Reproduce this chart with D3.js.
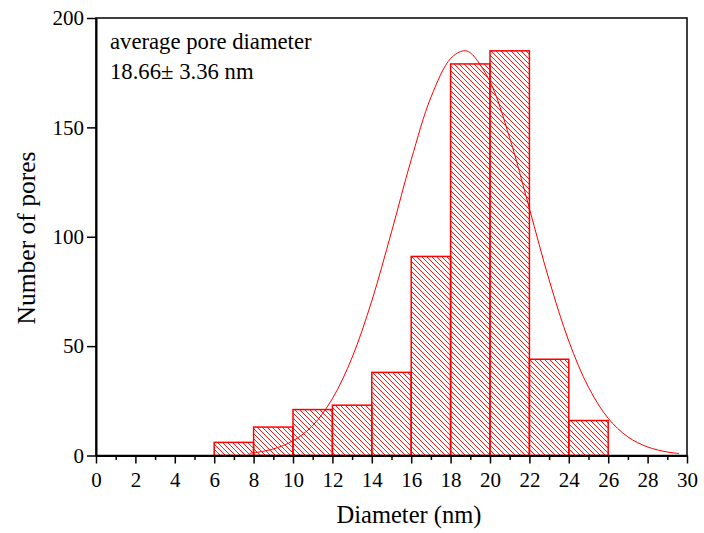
<!DOCTYPE html>
<html>
<head>
<meta charset="utf-8">
<script src="https://cdn.jsdelivr.net/npm/d3@7"></script>
<style>
  body { margin: 0; background: #fff; }
  svg { font-family: "Liberation Serif", "Times New Roman", serif; }
</style>
</head>
<body>
<svg width="704" height="533"></svg>
<script>
// histogram bins (lower edge, nm) and counts
const binStarts = [6, 8, 10, 12, 14, 16, 18, 20, 22, 24];
const binWidth = 2;
const counts = [6, 13, 21, 23, 38, 91, 179, 185, 44, 16];

// fitted curve, points
const fitX = [7.8, 8, 9, 10, 11, 12, 13, 14, 15, 16, 17, 18, 18.66, 19, 20, 21, 22, 23, 24, 25, 26, 27, 28, 29, 29.6];
const fitY = [1.0, 1.2, 3.0, 6.7, 13.7, 26.0, 44.8, 70.7, 102.2, 135.2, 163.7, 181.5, 185, 184.1, 170.9, 145.2, 112.9, 80.3, 52.3, 31.2, 17.0, 8.5, 3.9, 1.6, 0.9];

const xTicks = d3.range(0, 31, 2);
const xMinor = d3.range(1, 30, 2);
const yTicks = [0, 50, 100, 150, 200];

const noteLines = ["average pore diameter", "18.66\u00b1 3.36 nm"];

var svg = d3.select("svg");
var plotL = 96, plotR = 687, plotT = 18, plotB = 455.5;

var x = d3.scaleLinear().domain([0, 30]).range([plotL, plotR]);
var y = d3.scaleLinear().domain([0, 200]).range([plotB, plotT]);

// hatch pattern
var pat = svg.append("defs").append("pattern")
    .attr("id", "hatch")
    .attr("patternUnits", "userSpaceOnUse")
    .attr("width", 5)
    .attr("height", 5);
pat.append("path")
    .attr("d", "M-1,-1 L6,6 M-1,4 L1,6 M4,-1 L6,1")
    .attr("stroke", "#ff0000")
    .attr("stroke-width", 0.9);

// bars
svg.selectAll("rect.bar")
    .data(counts)
    .enter().append("rect")
    .attr("class", "bar")
    .attr("x", (d, i) => x(binStarts[i]))
    .attr("width", (d, i) => x(binStarts[i] + binWidth) - x(binStarts[i]))
    .attr("y", d => y(d))
    .attr("height", d => y(0) - y(d))
    .attr("fill", "url(#hatch)")
    .attr("stroke", "#ff0000")
    .attr("stroke-width", 1.5);

// fit curve
var line = d3.line()
    .x((d, i) => x(fitX[i]))
    .y(d => y(d))
    .curve(d3.curveCatmullRom);

svg.append("path")
    .datum(fitY)
    .attr("d", line)
    .attr("fill", "none")
    .attr("stroke", "#ff0000")
    .attr("stroke-width", 1);

// frame
svg.append("rect")
    .attr("x", plotL).attr("y", plotT)
    .attr("width", plotR - plotL).attr("height", plotB - plotT)
    .attr("fill", "none")
    .attr("stroke", "#000")
    .attr("stroke-width", 1.5);

// x axis
var xAxis = svg.append("g")
    .attr("transform", "translate(0," + plotB + ")")
    .call(d3.axisBottom(x).tickValues(xTicks).tickSize(8).tickSizeOuter(0).tickFormat(d3.format("d")));
xAxis.select(".domain").attr("stroke-width", 2);
xAxis.selectAll(".tick line").attr("stroke-width", 1.5);
xAxis.selectAll("text")
    .attr("font-size", 21)
    .attr("font-family", "Liberation Serif")
    .attr("fill", "#000")
    .attr("dy", "1.1em")
    .attr("y", 8);

svg.append("g")
    .attr("transform", "translate(0," + plotB + ")")
    .call(d3.axisBottom(x).tickValues(xMinor).tickSize(4.5).tickFormat(""))
    .call(g => g.select(".domain").remove())
    .selectAll(".tick line").attr("stroke-width", 1.5);

// y axis
var yAxis = svg.append("g")
    .attr("transform", "translate(" + plotL + ",0)")
    .call(d3.axisLeft(y).tickValues(yTicks).tickSize(9).tickSizeOuter(0));
yAxis.select(".domain").attr("stroke-width", 2);
yAxis.selectAll(".tick line").attr("stroke-width", 1.5);
yAxis.selectAll("text")
    .attr("font-size", 21)
    .attr("font-family", "Liberation Serif")
    .attr("fill", "#000")
    .attr("x", -12);

// axis titles
svg.append("text")
    .attr("x", 409)
    .attr("y", 523)
    .attr("text-anchor", "middle")
    .attr("font-size", 24.5)
    .text("Diameter (nm)");

svg.append("text")
    .attr("transform", "translate(35,238) rotate(-90)")
    .attr("text-anchor", "middle")
    .attr("font-size", 25.5)
    .text("Number of pores");

// annotation
svg.selectAll("text.note")
    .data(noteLines)
    .enter().append("text")
    .attr("class", "note")
    .attr("x", 110)
    .attr("y", (d, i) => 49 + i * 30)
    .attr("font-size", 22.7)
    .text(d => d);
</script>
</body>
</html>
